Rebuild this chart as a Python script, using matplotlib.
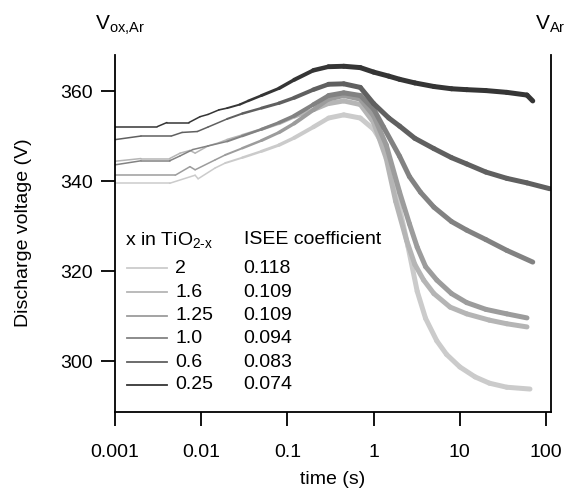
import numpy as np
import matplotlib
matplotlib.use("Agg")
import matplotlib.pyplot as plt
from matplotlib.collections import LineCollection
from matplotlib.lines import Line2D

plt.rcParams['font.family'] = ['Liberation Sans', 'DejaVu Sans']
plt.rcParams['mathtext.fontset'] = 'custom'
plt.rcParams['mathtext.rm'] = 'Liberation Sans'
plt.rcParams['mathtext.it'] = 'Liberation Sans'
plt.rcParams['mathtext.bf'] = 'Liberation Sans'

# ---- data ----
x_labels = ['2', '1.6', '1.25', '1.0', '0.6', '0.25']
isee = ['0.118', '0.109', '0.109', '0.094', '0.083', '0.074']
colors = ['#cbcbcb', '#b5b5b5', '#9c9c9c', '#828282', '#606060', '#353535']

t_2 = [0.001, 0.0043, 0.0085, 0.0092, 0.0145, 0.019, 0.03, 0.05, 0.08, 0.12, 0.2, 0.3,
       0.45, 0.7, 1.0, 1.3, 1.7, 2.0, 2.5, 3.2, 4, 5.4, 7, 10, 15, 22, 35, 65]
v_2 = [339.5, 339.5, 341.3, 340.5, 342.9, 344.0, 345.2, 346.6, 348.0, 349.6, 352.0, 354.0,
       354.7, 354.0, 351.5, 348.0, 340.5, 334.0, 325.5, 315.5, 309.5, 304.5, 301.5, 298.7,
       296.5, 295.1, 294.2, 293.8]

t_16 = [0.001, 0.002, 0.0043, 0.0057, 0.0074, 0.0085, 0.012, 0.016, 0.02, 0.03, 0.05, 0.08,
        0.12, 0.2, 0.3, 0.45, 0.7, 1.0, 1.4, 1.8, 2.4, 3, 3.8, 5, 7.7, 12, 22, 35, 60]
v_16 = [344.4, 345.0, 345.0, 346.2, 346.8, 346.2, 347.8, 348.5, 349.2, 350.2, 351.5, 352.8,
        354.3, 355.8, 357.2, 357.8, 357.0, 353.0, 345.0, 335.5, 326.9, 321.5, 318.0, 315.0,
        312.0, 310.5, 309.1, 308.3, 307.6]

t_125 = [0.001, 0.005, 0.0074, 0.0085, 0.0145, 0.019, 0.03, 0.05, 0.08, 0.12, 0.2, 0.3,
         0.45, 0.7, 1.0, 1.4, 2.0, 2.6, 3.2, 4, 5.4, 8, 12, 20, 35, 60]
v_125 = [341.3, 341.3, 343.2, 342.5, 344.7, 345.8, 347.3, 349.0, 350.8, 352.8, 355.8, 358.2,
         359.0, 358.2, 354.5, 348.0, 337.5, 330.5, 325.3, 321.0, 318.0, 315.0, 313.0, 311.5,
         310.5, 309.6]

t_10 = [0.001, 0.002, 0.0043, 0.0057, 0.008, 0.012, 0.02, 0.03, 0.05, 0.08, 0.12, 0.2, 0.3,
        0.45, 0.7, 1.0, 1.3, 2, 2.6, 3.5, 5, 8, 12, 20, 35, 70]
v_10 = [343.6, 344.5, 344.5, 345.6, 347.0, 347.8, 348.8, 350.0, 351.5, 353.0, 354.5, 357.0,
        359.0, 359.6, 359.0, 356.0, 352.0, 345.5, 341.0, 337.5, 334.2, 331.0, 329.1, 327.0,
        324.6, 322.0]

t_06 = [0.001, 0.002, 0.0045, 0.006, 0.009, 0.012, 0.02, 0.03, 0.05, 0.08, 0.12, 0.2, 0.3,
        0.45, 0.7, 1.0, 1.5, 2, 3, 5, 8, 12, 20, 35, 60, 110]
v_06 = [349.2, 350.0, 350.0, 350.8, 351.0, 352.0, 353.8, 355.0, 356.2, 357.3, 358.5, 360.3,
        361.5, 361.6, 360.8, 357.2, 354.0, 352.2, 349.5, 347.2, 345.2, 343.8, 342.0, 340.6,
        339.6, 338.3]

t_025 = [0.001, 0.0031, 0.004, 0.0072, 0.0097, 0.012, 0.016, 0.02, 0.028, 0.035, 0.05, 0.08,
         0.12, 0.2, 0.3, 0.45, 0.7, 1.0, 1.5, 2, 3, 5, 8, 12, 20, 35, 60, 70]
v_025 = [352.1, 352.1, 353.0, 353.0, 354.3, 354.8, 355.8, 356.2, 357.0, 357.8, 359.0, 360.6,
         362.5, 364.6, 365.4, 365.5, 365.2, 364.2, 363.3, 362.6, 361.8, 361.0, 360.5, 360.3,
         360.1, 359.7, 359.1, 357.8]

times = [t_2, t_16, t_125, t_10, t_06, t_025]
volts = [v_2, v_16, v_125, v_10, v_06, v_025]

x_ticks = [0.001, 0.01, 0.1, 1, 10, 100]
x_ticklabels = ['0.001', '0.01', '0.1', '1', '10', '100']
y_ticks = [300, 320, 340, 360]

# ---- figure ----
W, H = 565, 490
fig = plt.figure(figsize=(W / 100, H / 100), dpi=100)
L, R, T, B = 115, 551, 55, 412
ax = fig.add_axes([L / W, 1 - B / H, (R - L) / W, (B - T) / H])
ax.set_xscale('log')
ax.set_xlim(0.001, 114)
ax.set_ylim(288.7, 368)

def width_for(t):
    return np.interp(np.log10(t), [-3, -1.8, -0.4, 3], [1.1, 1.1, 3.6, 3.6])

for t, v, c in zip(times, volts, colors):
    t = np.asarray(t, float)
    v = np.asarray(v, float)
    pts = np.column_stack([t, v])
    segs = np.stack([pts[:-1], pts[1:]], axis=1)
    mids = np.sqrt(t[:-1] * t[1:])
    lc = LineCollection(segs, colors=c, linewidths=width_for(mids),
                        capstyle='round', joinstyle='round')
    ax.add_collection(lc)

fs = 14
ax.set_xticks(x_ticks)
ax.set_xticklabels(x_ticklabels)
ax.xaxis.set_minor_locator(matplotlib.ticker.NullLocator())
ax.set_yticks(y_ticks)
ax.tick_params(axis='both', which='major', direction='out', length=10, width=1.3,
               labelsize=fs, color='black')
ax.tick_params(axis='x', pad=13)
ax.tick_params(axis='y', pad=6, right=False)
ax.spines['top'].set_visible(False)
for s in ['left', 'right', 'bottom']:
    ax.spines[s].set_linewidth(1.3)

ax.set_ylabel('Discharge voltage (V)', fontsize=fs)
ax.yaxis.set_label_coords(-0.19, 0.501)
ax.set_xlabel('time (s)', fontsize=fs)
ax.xaxis.set_label_coords(0.498, -0.166)

ax.text(-0.046, 1.07, r'V$_{\mathrm{ox{,}Ar}}$', transform=ax.transAxes, fontsize=fs + 1,
        ha='left', va='baseline')
ax.text(0.963, 1.07, r'V$_{\mathrm{Ar}}$', transform=ax.transAxes, fontsize=fs + 1,
        ha='left', va='baseline')

# legend (manual, two columns)
ax.text(0.023, 0.482, 'x in TiO$_{\\mathrm{2‐x}}$', transform=ax.transAxes, fontsize=fs,
        ha='left', va='center')
ax.text(0.296, 0.482, 'ISEE coefficient', transform=ax.transAxes, fontsize=fs,
        ha='left', va='center')
row_y = [0.403, 0.335, 0.269, 0.206, 0.140, 0.076]
for yy, lab, val, c in zip(row_y, x_labels, isee, colors):
    ax.add_line(Line2D([0.0275, 0.119], [yy, yy], transform=ax.transAxes, color=c, lw=1.3))
    ax.text(0.138, yy, lab, transform=ax.transAxes, fontsize=fs, ha='left', va='center')
    ax.text(0.2936, yy, val, transform=ax.transAxes, fontsize=fs, ha='left', va='center')

fig.savefig('out.png', dpi=100)
